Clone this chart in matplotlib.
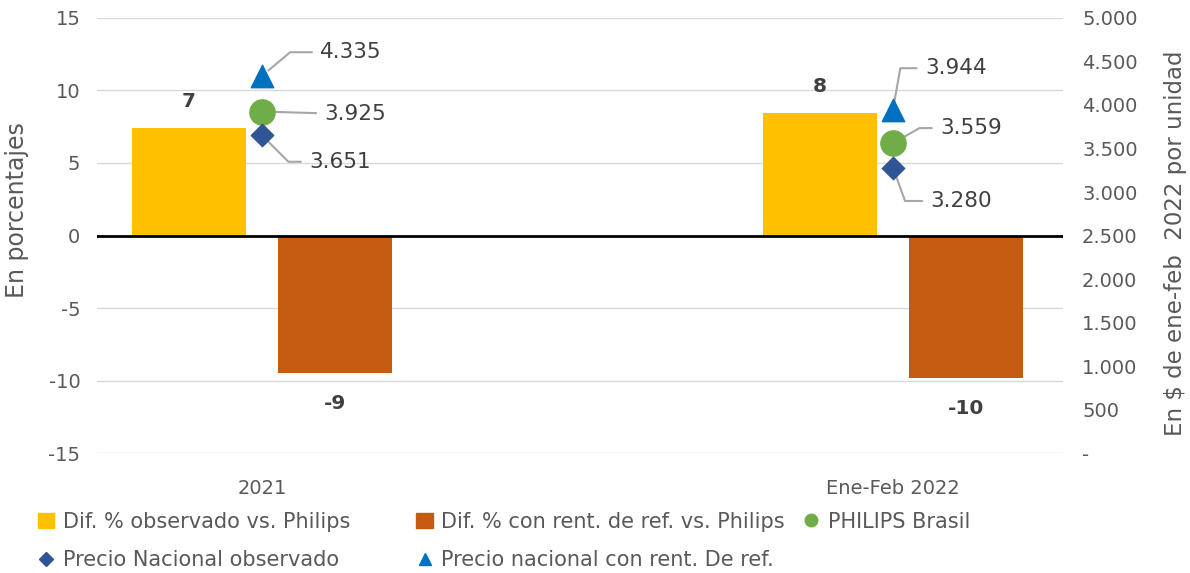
import matplotlib.pyplot as plt
from matplotlib.ticker import FuncFormatter
from matplotlib.lines import Line2D
from matplotlib.patches import Patch

plt.rcParams['font.family'] = ['DejaVu Sans']
plt.rcParams['axes.unicode_minus'] = False

# Data
categories = ['2021', 'Ene-Feb 2022']
dif_observado = [7.4, 8.42]
dif_rent_ref = [-9.45, -9.8]
philips_brasil = [3925, 3559]
precio_nacional_obs = [3651, 3280]
precio_nacional_ref = [4335, 3944]

txt = '#595959'
c_yel = '#FFC000'
c_org = '#C55A11'
c_grn = '#70AD47'
c_dia = '#2F5597'
c_tri = '#0070C0'

fig = plt.figure(figsize=(11.9, 5.73), dpi=100)
ax = fig.add_axes([0.0815, 0.2094, 0.8115, 0.7592])
ax2 = ax.twinx()

x = [0, 1]
off = 0.116
w = 0.181
ax.bar([i - off for i in x], dif_observado, w, color=c_yel, zorder=3)
ax.bar([i + off for i in x], dif_rent_ref, w, color=c_org, zorder=3)

for i, v in enumerate(dif_observado):
    ax.text(x[i] - off, v + 1.2, '%.0f' % v, ha='center', va='bottom',
            fontsize=14.5, fontweight='bold', color='#404040')
for i, v in enumerate(dif_rent_ref):
    ax.text(x[i] + off, v - 1.5, '%.0f' % v, ha='center', va='top',
            fontsize=14.5, fontweight='bold', color='#404040')

ax.set_xlim(-0.2615, 1.269)
ax.set_ylim(-15, 15)
ax.set_yticks(range(-15, 16, 5))
ax.grid(axis='y', color='#d9d9d9', linewidth=1, zorder=0)
ax.axhline(0, color='black', linewidth=2, zorder=4)
ax.set_xticks(x)
ax.set_xticklabels(categories)
ax.tick_params(length=0, labelsize=14, labelcolor=txt)
ax.tick_params(axis='y', pad=12)
ax.tick_params(axis='x', pad=19)
ax.set_ylabel('En porcentajes', fontsize=17, color=txt)
ax.yaxis.set_label_coords(-0.0704, 0.559)
for s in ax.spines.values():
    s.set_visible(False)

# markers on right axis
ax2.set_ylim(0, 5000)
ax2.set_yticks(range(0, 5001, 500))
ax2.yaxis.set_major_formatter(FuncFormatter(
    lambda v, p: '-' if v == 0 else '{:,.0f}'.format(v).replace(',', '.')))
ax2.tick_params(length=0, labelsize=14, labelcolor=txt, pad=14)
ax2.set_ylabel('En $ de ene-feb  2022 por unidad', fontsize=16.5, color=txt)
ax2.yaxis.set_label_coords(1.1046, 0.483)
for s in ax2.spines.values():
    s.set_visible(False)

ax2.scatter(x, precio_nacional_ref, marker='^', s=260, color=c_tri, zorder=5)
ax2.scatter(x, philips_brasil, marker='o', s=330, color=c_grn, zorder=5)
ax2.scatter(x, precio_nacional_obs, marker='D', s=130, color=c_dia, zorder=6)

# value labels with leader lines (offsets in points)
def lbl(xi, yi, dx, dy, bend):
    ax2.annotate('{:,.0f}'.format(yi).replace(',', '.'), (xi, yi),
                 xytext=(dx, dy), textcoords='offset points',
                 fontsize=15.5, color='#404040', va='center', ha='left',
                 arrowprops=dict(arrowstyle='-', color='#a6a6a6', lw=1.5,
                                 shrinkA=4, shrinkB=6,
                                 connectionstyle=bend))

lbl(x[0], precio_nacional_ref[0], 42, 17, 'angle,angleA=0,angleB=40,rad=0')
lbl(x[0], philips_brasil[0], 45, -2, 'arc3,rad=0')
lbl(x[0], precio_nacional_obs[0], 34, -19, 'angle,angleA=0,angleB=-45,rad=0')
lbl(x[1], precio_nacional_ref[1], 23, 30, 'angle,angleA=0,angleB=80,rad=0')
lbl(x[1], philips_brasil[1], 34, 11, 'angle,angleA=0,angleB=30,rad=0')
lbl(x[1], precio_nacional_obs[1], 27, -24, 'angle,angleA=0,angleB=-70,rad=0')

# legend, one column at a time so the columns sit where they do in the original
h_yel = Patch(color=c_yel, label='Dif. % observado vs. Philips')
h_org = Patch(color=c_org, label='Dif. % con rent. de ref. vs. Philips')
h_grn = Line2D([], [], marker='o', color=c_grn, linestyle='none', markersize=9,
               label='PHILIPS Brasil')
h_dia = Line2D([], [], marker='D', color=c_dia, linestyle='none', markersize=7,
               label='Precio Nacional observado')
h_tri = Line2D([], [], marker='^', color=c_tri, linestyle='none', markersize=9,
               label='Precio nacional con rent. De ref.')

cols = [([h_yel, h_dia], 0.016), ([h_org, h_tri], 0.334), ([h_grn], 0.659)]
for hs, xpos in cols:
    fig.legend(handles=hs, loc='upper left', bbox_to_anchor=(xpos, 0.14),
               frameon=False, fontsize=15, labelcolor=txt, handlelength=0.8,
               handletextpad=0.4, labelspacing=0.9)

fig.savefig('out.png', dpi=100)
